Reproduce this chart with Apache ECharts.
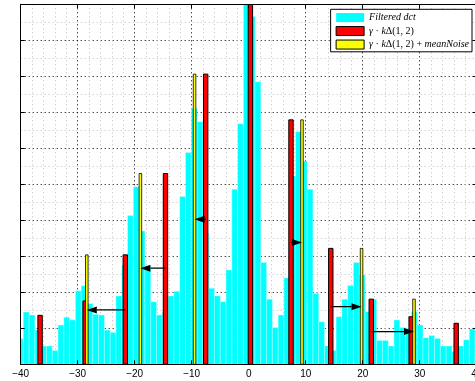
<!DOCTYPE html>
<html>
<head>
<meta charset="utf-8">
<script src="https://cdn.jsdelivr.net/npm/echarts@6/dist/echarts.min.js"></script>
<style>
  html, body { margin: 0; padding: 0; background: #fff; }
  #chart { width: 475px; height: 381px; }
</style>
</head>
<body>
<div id="chart"></div>
<script>
// Filtered DCT histogram: bin heights, first bin centre and bin width
const binStart = -40.05;
const binWidth = 1.0162;
const filteredDct = [
  0.72, 1.45, 1.37, 0.95, 0.51, 0.51, 0.38, 1.09, 1.31, 1.23,
  2.04, 2.18, 1.69, 1.39, 1.37, 0.95, 0.88, 1.90, 2.76, 4.13,
  4.93, 3.70, 2.73, 1.74, 1.37, 1.46, 1.90, 2.03, 4.66, 5.88,
  7.11, 6.74, 3.64, 2.11, 1.90, 1.74, 2.62, 4.86, 6.68, 10.0,
  9.66, 7.85, 2.83, 1.81, 1.02, 1.37, 2.40, 5.23, 6.46, 5.65,
  4.86, 1.97, 1.18, 0.51, 0.39, 1.32, 1.81, 2.19, 2.83, 2.48,
  1.46, 1.81, 0.66, 0.66, 0.51, 1.23, 1.02, 1.00, 1.46, 1.09,
  0.74, 0.80, 0.72, 0.51, 0.51, 0.35, 0.51, 0.68, 0.98, 0.98
];

// Peaks gamma * k * Delta(1,2)
const peakPos = [-36.6, -28.7, -21.65, -14.6, -7.55, 0.3, 7.42, 14.4, 21.5, 28.5, 36.4];
const peakVal = [1.36, 1.76, 3.04, 5.30, 8.06, 10.0, 6.79, 3.22, 1.81, 1.32, 1.14];

// Peaks moved by the mean noise
const shiftedPos = [-28.4, -19.0, -9.5, 9.35, 19.8, 29.0];
const shiftedVal = [3.04, 5.30, 8.06, 6.79, 3.22, 1.81];

// Arrows from each peak to its shifted copy
const arrowFrom = [-7.55, -14.6, -21.65, 7.42, 14.4, 21.5];
const arrowTo = [-9.5, -19.0, -28.4, 9.35, 19.8, 29.0];
const arrowLevel = [4.03, 2.67, 1.51, 3.38, 1.60, 0.91];

// Axis ranges
const xTicks = [-40, -30, -20, -10, 0, 10, 20, 30, 40];
const yRange = [0, 10];

const names = ['Filtered dct', 'γ · kΔ(1, 2)', 'γ · kΔ(1, 2) + meanNoise'];

const X0 = xTicks[0], X1 = xTicks[xTicks.length - 1];

function rectShape(api, x, w, h) {
  const lo = Math.max(x - w / 2, X0), hi = Math.min(x + w / 2, X1);
  const a = api.coord([lo, 0]);
  const b = api.coord([hi, Math.min(h, yRange[1])]);
  return { x: a[0], y: b[1], width: b[0] - a[0], height: a[1] - b[1] };
}

function barRenderer(width, fill, stroke, lw) {
  return function (params, api) {
    return {
      type: 'rect',
      shape: rectShape(api, api.value(0), width, api.value(1)),
      style: { fill: fill, stroke: stroke, lineWidth: lw }
    };
  };
}

const histData = filteredDct.map((v, i) => [binStart + i * binWidth, v]);
const peakData = peakPos.map((p, i) => [p, peakVal[i]]);
const shiftedData = shiftedPos.map((p, i) => [p, shiftedVal[i]]);
const arrowData = arrowFrom.map((f, i) => [f, arrowTo[i], arrowLevel[i]]);

const gridLine = { show: true, lineStyle: { color: '#000', type: [1, 3], width: 1 } };
const minorLine = { show: true, lineStyle: { color: '#bdbdbd', type: [1, 3], width: 1 } };

const chart = echarts.init(document.getElementById('chart'), null, { renderer: 'canvas' });

chart.setOption({
  animation: false,
  backgroundColor: '#fff',
  grid: { left: 20.7, right: -1.7, top: 4.3, bottom: 16.7, containLabel: false, outerBoundsMode: 'none' },
  xAxis: [
    {
      type: 'value', position: 'bottom', min: X0, max: X1, interval: 10, z: 5,
      axisLine: { show: true, onZero: false, lineStyle: { color: '#000', width: 1 } },
      axisTick: { show: true, inside: true, length: 4, lineStyle: { color: '#000' } },
      axisLabel: {
        show: true, margin: 5, color: '#000', fontSize: 10,
        fontFamily: 'Liberation Sans, Arial, sans-serif',
        formatter: v => (v < 0 ? '\u2212' + Math.abs(v) : String(v))
      },
      splitLine: { show: false }
    },
    {
      type: 'value', position: 'top', min: X0, max: X1, interval: 10, z: 5,
      axisLine: { show: true, onZero: false, lineStyle: { color: '#000', width: 1 } },
      axisTick: { show: true, inside: true, length: 4, lineStyle: { color: '#000' } },
      axisLabel: { show: false },
      splitLine: { show: false }
    },
    {
      type: 'value', position: 'bottom', min: X0, max: X1, interval: 10, z: 0,
      axisLine: { show: false }, axisTick: { show: false }, axisLabel: { show: false },
      minorTick: { show: false, splitNumber: 5 },
      splitLine: gridLine, minorSplitLine: minorLine
    }
  ],
  yAxis: [
    {
      type: 'value', position: 'left', min: yRange[0], max: yRange[1], interval: 1, z: 5,
      axisLine: { show: true, onZero: false, lineStyle: { color: '#000', width: 1 } },
      axisTick: { show: true, inside: true, length: 4, lineStyle: { color: '#000' } },
      axisLabel: { show: false },
      splitLine: { show: false }
    },
    {
      type: 'value', position: 'right', min: yRange[0], max: yRange[1], interval: 1, z: 5,
      axisLine: { show: true, onZero: false, lineStyle: { color: '#000', width: 1 } },
      axisTick: { show: true, inside: true, length: 4, lineStyle: { color: '#000' } },
      axisLabel: { show: false },
      splitLine: { show: false }
    },
    {
      type: 'value', position: 'left', min: yRange[0], max: yRange[1], interval: 1, z: 0,
      axisLine: { show: false }, axisTick: { show: false }, axisLabel: { show: false },
      minorTick: { show: false, splitNumber: 2 },
      splitLine: gridLine, minorSplitLine: minorLine
    }
  ],
  legend: {
    data: [
      { name: names[0], itemStyle: { borderWidth: 0 } },
      { name: names[1], itemStyle: { borderColor: '#000', borderWidth: 1 } },
      { name: names[2], itemStyle: { borderColor: '#000', borderWidth: 1 } }
    ],
    orient: 'vertical', right: 3, top: 9.3, z: 10,
    backgroundColor: '#fff', borderColor: '#000', borderWidth: 1, borderRadius: 0,
    padding: [2, 3, 1, 5], itemGap: 1, itemWidth: 28, itemHeight: 9, icon: 'rect',
    textStyle: {
      color: '#000', fontSize: 10, lineHeight: 12.5, fontFamily: 'Liberation Serif, serif',
      rich: {
        it: { fontStyle: 'italic', fontFamily: 'Liberation Serif, serif', fontSize: 10, color: '#000' },
        rm: { fontFamily: 'Liberation Serif, serif', fontSize: 10, color: '#000' }
      }
    },
    formatter: function (name) {
      if (name === names[0]) return '{it|Filtered dct}';
      if (name === names[1]) return '{it|γ}{rm| · }{it|k}{rm|Δ(1, 2)}';
      return '{it|γ}{rm| · }{it|k}{rm|Δ(1, 2) + }{it|meanNoise}';
    }
  },
  series: [
    {
      name: names[0], type: 'custom', xAxisIndex: 0, yAxisIndex: 0, z: 2, clip: true,
      itemStyle: { color: '#00ffff' },
      renderItem: barRenderer(binWidth, '#00ffff', 'rgba(220,255,255,0.9)', 0.4),
      data: histData, encode: { x: 0, y: 1 }
    },
    {
      name: names[1], type: 'custom', xAxisIndex: 0, yAxisIndex: 0, z: 3, clip: true,
      itemStyle: { color: '#ff0000', borderColor: '#000', borderWidth: 1 },
      renderItem: barRenderer(0.77, '#ff0000', '#000', 1),
      data: peakData, encode: { x: 0, y: 1 }
    },
    {
      name: names[2], type: 'custom', xAxisIndex: 0, yAxisIndex: 0, z: 4, clip: true,
      itemStyle: { color: '#ffff00', borderColor: '#000', borderWidth: 1 },
      renderItem: barRenderer(0.45, '#ffff00', '#000', 0.8),
      data: shiftedData, encode: { x: 0, y: 1 }
    },
    {
      name: 'shift', type: 'custom', xAxisIndex: 0, yAxisIndex: 0, z: 4, clip: true,
      renderItem: function (params, api) {
        const p0 = api.coord([api.value(0), api.value(2)]);
        const p1 = api.coord([api.value(1), api.value(2)]);
        const dir = p1[0] > p0[0] ? 1 : -1;
        const L = 10, W = 3.5;
        const base = p1[0] - dir * L;
        return {
          type: 'group',
          children: [
            { type: 'line', shape: { x1: p0[0], y1: p0[1], x2: base, y2: p1[1] },
              style: { stroke: '#000', lineWidth: 1.3 } },
            { type: 'polygon', shape: { points: [[p1[0], p1[1]], [base, p1[1] - W], [base, p1[1] + W]] },
              style: { fill: '#000' } }
          ]
        };
      },
      data: arrowData, encode: { x: [0, 1], y: 2 }
    }
  ]
});
</script>
</body>
</html>
